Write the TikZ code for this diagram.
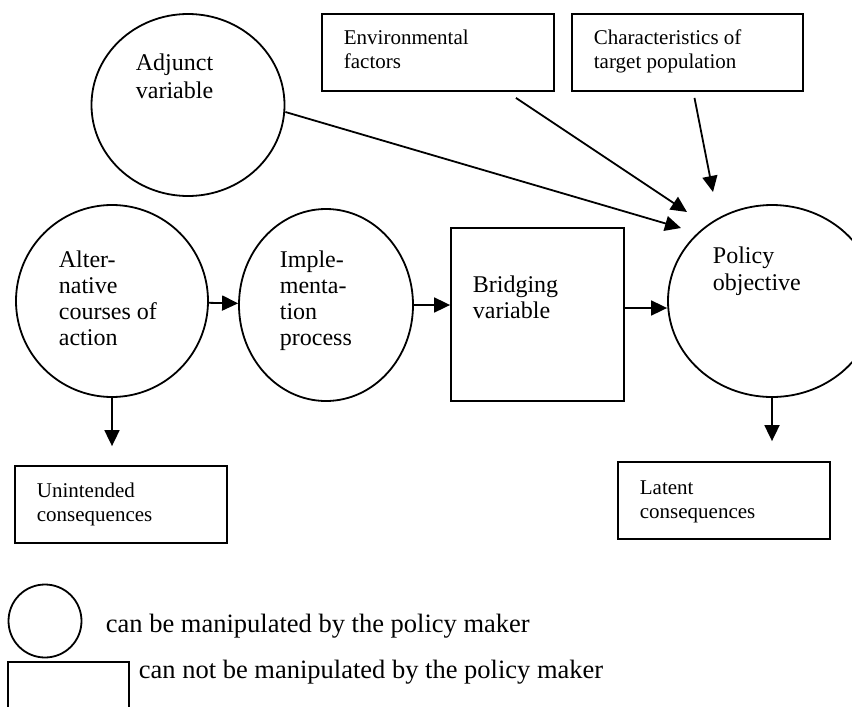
\documentclass[tikz,border=0pt]{standalone}
\usepackage{fontspec}
\setmainfont{Liberation Serif}
\usetikzlibrary{arrows.meta}
\usetikzlibrary{shapes.geometric}
\usetikzlibrary{positioning}

\begin{document}
\begin{tikzpicture}[x=0.5pt, y=-0.5pt, line width=0.9pt,
        var/.style={draw, ellipse, inner sep=0pt},
        fixed/.style={draw, rectangle, inner sep=0pt},
        arr/.style={-{Triangle[length=8pt, width=7.5pt]}},
        txt/.style={anchor=base west, inner sep=0pt, align=left, font=\fontsize{12}{13}\selectfont},
        small/.style={txt, font=\fontsize{10.5}{12}\selectfont},
        keytxt/.style={txt, font=\fontsize{13.25}{15}\selectfont}]

        \useasboundingbox (0,0) rectangle (852,707);

        % Variables the policy maker can steer (circles)
        \node[var, minimum width=96.5pt, minimum height=91pt] (adjunct) at (188,105) {};
        \node[var, minimum width=96pt, minimum height=96pt] (alt) at (112,301) {};
        \node[var, minimum width=87pt, minimum height=96pt] (impl) at (326,305) {};
        \node[var, minimum width=104pt, minimum height=96pt] (policy) at (772,301) {};

        % Variables outside his reach (boxes)
        \node[fixed, minimum width=116pt, minimum height=38.5pt] (env) at (438,52.5) {};
        \node[fixed, minimum width=115.5pt, minimum height=38.5pt] (char) at (687.5,52.5) {};
        \node[fixed, minimum width=86.5pt, minimum height=86.5pt] (bridge) at (537.5,314.5) {};
        \node[fixed, minimum width=106pt, minimum height=38.5pt] (unint) at (121,504.5) {};
        \node[fixed, minimum width=106pt, minimum height=38.5pt] (latent) at (724,500.5) {};

        % Labels (placed at the baseline of their last line)
        \node[txt, font=\fontsize{12}{14}\selectfont] (adjunct-txt) at (135,98) {Adjunct\\variable};
        \node[small] (env-txt) at (343,68) {Environmental\\factors};
        \node[small] (char-txt) at (593,68) {Characteristics of\\target population};
        \node[txt] (alt-txt) at (58,345) {Alter-\\native\\courses of\\action};
        \node[txt] (impl-txt) at (279,345) {Imple-\\menta-\\tion\\process};
        \node[txt] (bridge-txt) at (472,318) {Bridging\\variable};
        \node[txt, font=\fontsize{12}{13.5}\selectfont] (policy-txt) at (712,290) {Policy\\objective};
        \node[small] (unint-txt) at (36,521) {Unintended\\consequences};
        \node[small] (latent-txt) at (639,518) {Latent\\consequences};

        % Arrow tips short of the objective
        \coordinate (inA) at (681,228);
        \coordinate (inE) at (687,212);
        \coordinate (inC) at (713,192);

        % Main chain
        \draw[arr] (alt) -- (impl);
        \draw[arr] (impl.east) -- (impl.east -| bridge.west);
        \draw[arr] ([yshift=3.25pt]bridge.east) -- ([yshift=3.25pt]bridge.east -| policy.west);

        % Influences on the objective
        \draw[arr] ([shift={(0,7)}]adjunct.east) -- (inA);
        \draw[arr] ([shift={(-39,6)}]env.south east) -- (inE);
        \draw[arr] ([shift={(7,6)}]char.south) -- (inC);

        % Side effects
        \draw[arr, shorten >=9.5pt] (alt.south) -- (alt.south |- unint.north);
        \draw[arr, shorten >=10pt] (policy.south) -- (policy.south |- latent.north);

        % Key
        \node[var, minimum size=36.5pt] (keyvar) at (45,621) {};
        \node[fixed, minimum width=60.5pt, minimum height=38pt] (keyfix) at (68.5,700) {};
        \node[keytxt] (keyvar-txt) at (105,632) {can be manipulated by the policy maker};
        \node[keytxt] (keyfix-txt) at (138,678) {can not be manipulated by the policy maker};
\end{tikzpicture}
\end{document}
